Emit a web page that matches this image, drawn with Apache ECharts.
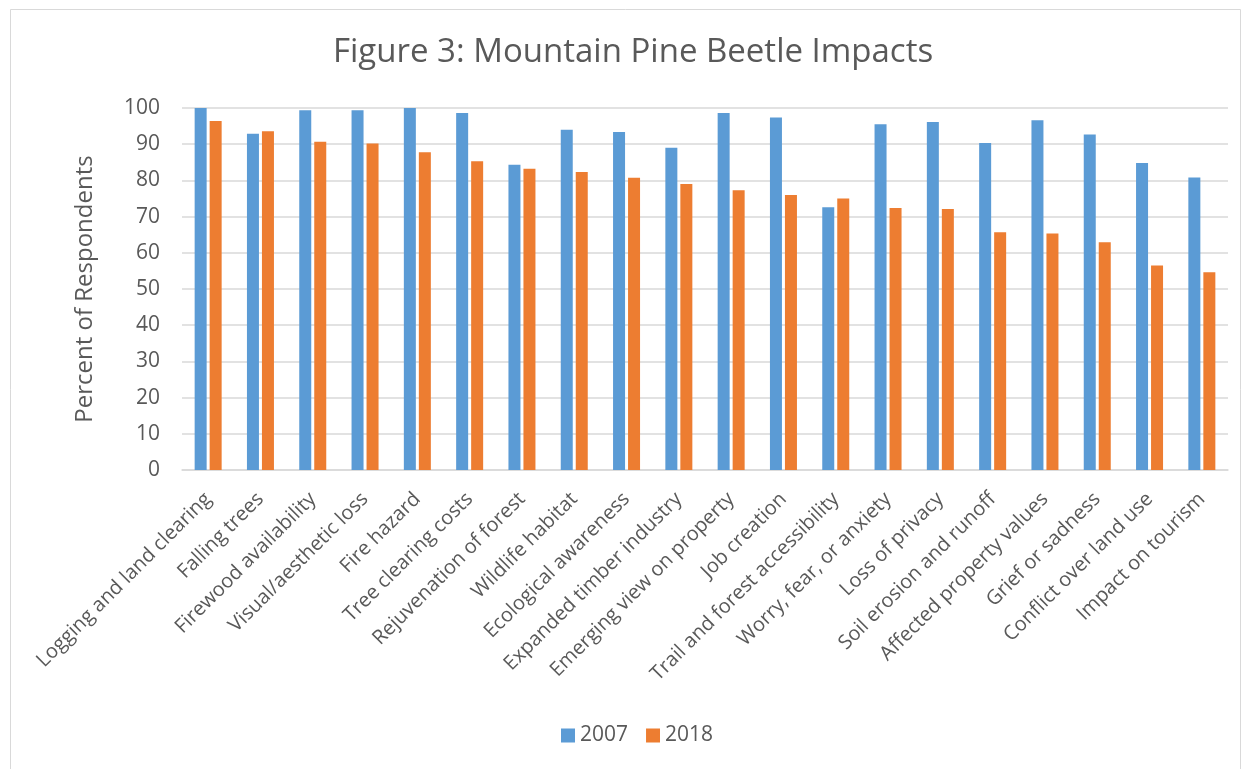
<!DOCTYPE html>
<html><head><meta charset="utf-8">
<script src="https://cdn.jsdelivr.net/npm/echarts@6/dist/echarts.min.js"></script>
<style>html,body{margin:0;padding:0;background:#fff;}#c{width:1252px;height:769px;}</style>
</head><body><div id="c"></div>
<script>
const categories = ["Logging and land clearing","Falling trees","Firewood availability","Visual/aesthetic loss","Fire hazard","Tree clearing costs","Rejuvenation of forest","Wildlife habitat","Ecological awareness","Expanded timber industry","Emerging view on property","Job creation","Trail and forest accessibility","Worry, fear, or anxiety","Loss of privacy","Soil erosion and runoff","Affected property values","Grief or sadness","Conflict over land use","Impact on tourism"];
const values2007 = [100,92.9,99.4,99.4,100,98.6,84.3,94.0,93.4,89.0,98.6,97.4,72.6,95.5,96.1,90.3,96.6,92.7,84.8,80.8];
const values2018 = [96.4,93.6,90.7,90.2,87.8,85.3,83.2,82.3,80.7,79.0,77.3,76.0,75.0,72.4,72.1,65.7,65.3,62.9,56.5,54.6];
const yTicks = [0,10,20,30,40,50,60,70,80,90,100];

const font = '"Open Sans", sans-serif';
const chart = echarts.init(document.getElementById('c'), null, {renderer:'canvas'});
chart.setOption({
  backgroundColor:'#fff',
  animation:false,
  graphic:[{type:'rect',shape:{x:10.5,y:9.5,width:1230,height:770},style:{fill:'none',stroke:'#d9d9d9',lineWidth:1},silent:true}],
  title:{text:'Figure 3: Mountain Pine Beetle Impacts',left:328,top:31,textStyle:{fontFamily:font,fontSize:33,fontWeight:'normal',color:'#595959'}},
  legend:{bottom:18,left:556,itemWidth:14,itemHeight:14,itemGap:18,icon:'rect',textStyle:{fontFamily:font,fontSize:21,color:'#595959'},data:['2007','2018']},
  grid:{left:182,right:24,top:108,height:362,containLabel:false},
  xAxis:{type:'category',data:categories,axisLine:{lineStyle:{color:'#d9d9d9',width:1.5}},axisTick:{show:false},
    axisLabel:{rotate:45,interval:0,fontFamily:font,fontSize:20,color:'#595959',margin:26}},
  yAxis:{type:'value',min:yTicks[0],max:yTicks[yTicks.length-1],interval:10,
    name:'Percent of Respondents',nameLocation:'middle',nameGap:85,nameTextStyle:{fontFamily:font,fontSize:24,color:'#595959'},
    axisLine:{show:false},axisTick:{show:false},
    axisLabel:{fontFamily:font,fontSize:21,color:'#595959',margin:22},
    splitLine:{lineStyle:{color:'#d9d9d9',width:1.5}}},
  series:[
    {name:'2007',type:'bar',data:values2007,barWidth:12,barGap:'25%',itemStyle:{color:'#5b9bd5'}},
    {name:'2018',type:'bar',data:values2018,barWidth:12,itemStyle:{color:'#ed7d31'}}
  ]
});
</script></body></html>
